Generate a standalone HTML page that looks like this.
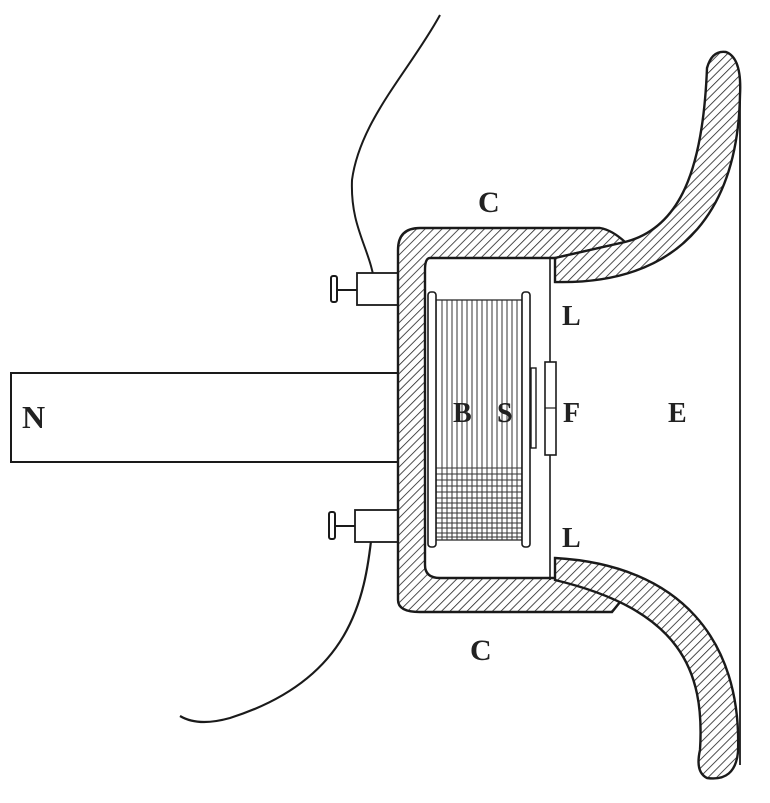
<!DOCTYPE html>
<html><head><meta charset="utf-8"><style>
html,body{margin:0;padding:0;background:#fff;}
svg{display:block;}
text{font-family:"Liberation Serif",serif;font-weight:bold;fill:#222;}
</style></head><body>
<svg width="770" height="803" viewBox="0 0 770 803" xmlns="http://www.w3.org/2000/svg">
<defs>
<pattern id="h" width="6" height="6" patternUnits="userSpaceOnUse" patternTransform="rotate(45)">
<rect width="6" height="6" fill="#fff"/><line x1="0" y1="0" x2="0" y2="6" stroke="#222" stroke-width="1.6"/>
</pattern>
</defs>
<g stroke="#1a1a1a" stroke-width="2" fill="none">
<path d="M440,15 C410,70 360,120 352,180 C350,230 372,250 375,288" stroke-width="2"/>
<path d="M372,532 C365,600 350,680 230,718 C205,725 190,722 180,716" stroke-width="2.2"/>
<rect x="11" y="373" width="388" height="89" fill="#fff"/>
<rect x="357" y="273" width="42" height="32" fill="#fff" stroke-width="1.8"/>
<line x1="337" y1="290" x2="357" y2="290"/>
<rect x="331" y="276" width="6" height="26" rx="2" fill="#fff"/>
<rect x="355" y="510" width="44" height="32" fill="#fff" stroke-width="1.8"/>
<line x1="335" y1="526" x2="355" y2="526"/>
<rect x="329" y="512" width="6" height="27" rx="2" fill="#fff"/>
<path d="M398,600 L398,250 Q398,228 420,228 L600,228 Q612,230 625,242 L555,258 L430,258 Q425,258 425,270 L425,565 Q425,578 440,578 L555,578 L628,592 L612,612 L420,612 Q398,612 398,600 Z" fill="url(#h)" stroke-width="2.4"/>
<path d="M555,258 L625,242 C680,228 703,170 707,68 Q712,50 726,52 Q742,58 740,95 C738,200 690,285 555,282 Z" fill="url(#h)" stroke-width="2.4"/>
<path d="M555,558 C680,565 742,640 738,752 Q735,782 707,778 Q695,772 700,750 C705,670 680,610 555,580 Z" fill="url(#h)" stroke-width="2.4"/>
<line x1="550" y1="258" x2="550" y2="580" stroke-width="1.6"/>
<line x1="740" y1="95" x2="740" y2="765" stroke-width="1.8"/>
<rect x="436" y="300" width="86" height="240" fill="#fff" stroke-width="1.2"/>
<g stroke-width="1" stroke="#333">
<line x1="442" y1="300" x2="442" y2="540"/><line x1="447" y1="300" x2="447" y2="540"/><line x1="452" y1="300" x2="452" y2="540"/><line x1="457" y1="300" x2="457" y2="540"/><line x1="462" y1="300" x2="462" y2="540"/><line x1="467" y1="300" x2="467" y2="540"/><line x1="472" y1="300" x2="472" y2="540"/><line x1="477" y1="300" x2="477" y2="540"/><line x1="482" y1="300" x2="482" y2="540"/><line x1="487" y1="300" x2="487" y2="540"/><line x1="492" y1="300" x2="492" y2="540"/><line x1="497" y1="300" x2="497" y2="540"/><line x1="502" y1="300" x2="502" y2="540"/><line x1="507" y1="300" x2="507" y2="540"/><line x1="512" y1="300" x2="512" y2="540"/><line x1="517" y1="300" x2="517" y2="540"/>
<line x1="436" y1="468" x2="522" y2="468"/><line x1="436" y1="474" x2="522" y2="474"/><line x1="436" y1="480" x2="522" y2="480"/><line x1="436" y1="486" x2="522" y2="486"/><line x1="436" y1="492" x2="522" y2="492"/><line x1="436" y1="498" x2="522" y2="498"/><line x1="436" y1="503" x2="522" y2="503"/><line x1="436" y1="508" x2="522" y2="508"/><line x1="436" y1="513" x2="522" y2="513"/><line x1="436" y1="518" x2="522" y2="518"/><line x1="436" y1="523" x2="522" y2="523"/><line x1="436" y1="528" x2="522" y2="528"/><line x1="436" y1="533" x2="522" y2="533"/><line x1="436" y1="537" x2="522" y2="537"/>
</g>
<rect x="428" y="292" width="8" height="255" rx="3" fill="#fff" stroke-width="1.6"/>
<rect x="522" y="292" width="8" height="255" rx="3" fill="#fff" stroke-width="1.6"/>
<rect x="531" y="368" width="5" height="80" fill="#fff" stroke-width="1.4"/>
<rect x="545" y="362" width="11" height="93" fill="#fff" stroke-width="1.6"/>
<line x1="545" y1="408" x2="556" y2="408" stroke-width="1.2"/>
</g>
<text x="478" y="212" font-size="30">C</text>
<text x="470" y="660" font-size="30">C</text>
<text x="562" y="325" font-size="28">L</text>
<text x="562" y="547" font-size="28">L</text>
<text x="563" y="422" font-size="28">F</text>
<text x="668" y="422" font-size="28">E</text>
<text x="22" y="428" font-size="32">N</text>
<text x="453" y="422" font-size="28" fill="#555">B</text>
<text x="497" y="422" font-size="28" fill="#555">S</text>
</svg>
</body></html>
